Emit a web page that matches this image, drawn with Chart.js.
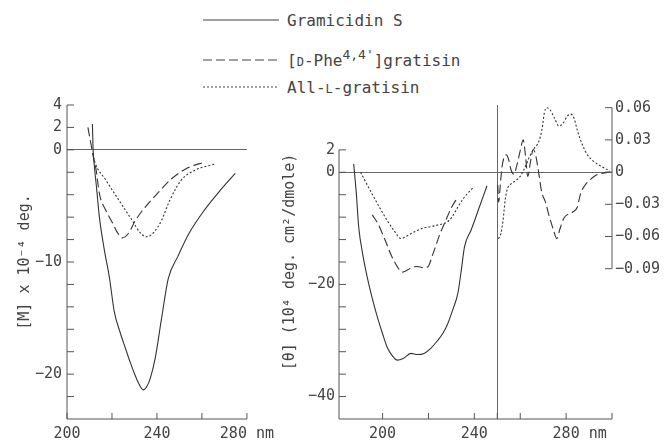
<!DOCTYPE html>
<html>
<head>
<meta charset="utf-8">
<script src="https://cdn.jsdelivr.net/npm/chart.js@4.4.1/dist/chart.umd.min.js"></script>
<style>
  body { margin: 0; background: #fff; }
  #wrap { position: relative; width: 665px; height: 441px; overflow: hidden;
          font-family: "DejaVu Sans Mono", monospace; color: #444; }
  canvas { position: absolute; top: 0; }
  #ord { left: 0; }
  #cd { left: 280px; }
  .key { position: absolute; left: 203px; height: 20px; display: flex; align-items: center;
         font-size: 16px; white-space: nowrap; }
  .key svg { width: 76px; height: 4px; margin-right: 8px; flex: none; }
  .sc { font-size: 12px; }
  sup { font-size: 13px; vertical-align: 7px; line-height: 0; }
</style>
</head>
<body>
<div id="wrap">
  <div class="key" style="top:10px">
    <svg><line x1="0" y1="2" x2="76" y2="2" stroke="#444" stroke-width="1.1"/></svg><span>Gramicidin S</span>
  </div>
  <div class="key" style="top:50px">
    <svg><line x1="0" y1="2" x2="76" y2="2" stroke="#444" stroke-width="1.1" stroke-dasharray="9 4"/></svg><span>[<span class="sc">D</span>-Phe<sup>4,4'</sup>]gratisin</span>
  </div>
  <div class="key" style="top:77px">
    <svg><line x1="0" y1="2" x2="76" y2="2" stroke="#444" stroke-width="1.1" stroke-dasharray="2 2"/></svg><span>All-<span class="sc">L</span>-gratisin</span>
  </div>
  <canvas id="ord" width="280" height="441"></canvas>
  <canvas id="cd" width="385" height="441"></canvas>
</div>
<script>
// ORD curves, [M] x 10^-4 deg. vs nm
const ordGramX = [211.3, 211.6, 212.2, 213.2, 214.4, 216.5, 218.8, 221, 223.5, 226, 228.2, 230.3, 232.3, 234, 235.5, 237, 239.2, 242, 245, 249.3, 254.4, 261, 268.2, 274.8];
const ordGramY = [2.3, 0, -1.5, -3.5, -6, -8.8, -11.3, -14.4, -16.2, -17.7, -19, -20.1, -21, -21.4, -21.1, -20.4, -18.6, -15.1, -11.5, -9.5, -7.4, -5.4, -3.6, -2.1];
const ordPheX = [209.3, 210.4, 211.5, 213, 214.4, 217.3, 220.2, 222.5, 224.6, 227.5, 230.4, 234.8, 240.6, 246.4, 253.7, 261];
const ordPheY = [2.0, 0.8, -0.4, -1.85, -3.9, -5.4, -6.5, -7.4, -7.85, -7.4, -6.3, -5.1, -3.8, -2.6, -1.6, -1.1];
const ordAllX = [211.4, 212.2, 217.3, 223.1, 229, 232.6, 235.5, 238.4, 242, 245.7, 250.8, 256.6, 266];
const ordAllY = [-0.3, -1.0, -2.7, -4.5, -6.3, -7.4, -7.75, -7.4, -6.3, -4.5, -2.7, -1.85, -1.25];

// CD curves below 250 nm, [theta] x 10^-4
const cdGramX = [187.4, 188.5, 189.6, 191.3, 193.3, 195.5, 197.7, 200, 202, 204.2, 206.4, 209, 212.3, 215.2, 218.1, 221, 224, 226.3, 228.4, 230.6, 232.8, 234.3, 235.7, 238.6, 242.2, 245.5];
const cdGramY = [1.5, -3.5, -9.8, -14.5, -18.7, -22.5, -25.8, -28.8, -31.2, -32.7, -33.5, -33.2, -32.3, -32.5, -32.3, -31.4, -30, -28.7, -27, -24.5, -21.6, -17.5, -13.3, -10.3, -6.2, -2.4];
const cdPheX = [195.5, 198, 201, 204, 207, 208.6, 211, 213, 215.2, 217.5, 219.6, 222, 225, 227, 230, 232.8];
const cdPheY = [-7.6, -9.2, -12, -15, -17.2, -17.8, -17.4, -16.9, -16.8, -17, -16.9, -14.5, -11, -9.1, -6.3, -4.4];
const cdAllX = [190.4, 193, 196, 199, 202, 205, 207.9, 210, 213, 216, 218.1, 221, 224, 226.9, 229, 231, 232.8, 235, 237, 239.3];
const cdAllY = [0, -2, -4.3, -6.5, -8.6, -10.4, -11.8, -11.5, -10.8, -10.2, -9.9, -9.7, -9.4, -9.1, -8.6, -7.5, -6.2, -4.8, -3.8, -2.8];

// CD curves above 250 nm, right axis
const cdPheRX = [250.2, 250.6, 251.2, 252, 253, 254, 255, 256, 257.3, 258.5, 260, 261.3, 262.3, 263.3, 264.5, 265.7, 266.8, 268, 269.3, 271, 272.5, 274.5, 275.9, 277.3, 279, 281, 283, 284.8, 286.3, 288.3, 290.5, 293, 296, 299];
const cdPheRY = [-0.012, -0.028, -0.015, 0.004, 0.014, 0.016, 0.011, 0.002, -0.002, 0.006, 0.020, 0.030, 0.015, -0.004, 0.010, 0.021, 0.015, 0.000, -0.018, -0.028, -0.040, -0.054, -0.062, -0.053, -0.043, -0.039, -0.037, -0.033, -0.020, -0.012, -0.007, -0.003, -0.001, 0];
const cdAllRX = [250.5, 251.5, 252.5, 253.5, 254.5, 256, 258, 260, 262, 264, 266, 268, 269.5, 270.5, 271.5, 273, 275, 276.8, 278.5, 280.5, 282, 283.5, 285, 287, 289, 291.5, 294, 296.5, 299];
const cdAllRY = [-0.062, -0.058, -0.045, -0.025, -0.015, -0.011, -0.008, -0.004, 0.004, 0.014, 0.022, 0.028, 0.040, 0.055, 0.060, 0.058, 0.050, 0.043, 0.045, 0.052, 0.054, 0.050, 0.038, 0.026, 0.017, 0.011, 0.007, 0.004, 0.001];

// ticks and their labels
const ordXTicks = [200, 220, 240, 260, 280];
const ordXLabels = ["200", "", "240", "", "280 nm"];
const ordYTicks = [4, 2, 0, -2, -4, -6, -8, -10, -12, -14, -16, -18, -20, -22];
const ordYLabels = ["4", "2", "0", "", "", "", "", "−10", "", "", "", "", "−20", ""];
const cdXTicks = [200, 220, 240, 250, 260, 280, 300];
const cdXLabels = ["200", "", "240", "", "", "   280 nm", ""];
const cdYTicks = [4, 0, -4, -8, -12, -16, -20, -24, -28, -32, -36, -40];
const cdYLabels = ["2", "0", "", "", "", "", "−20", "", "", "", "", "−40"];
const cdY2Ticks = [0.06, 0.03, 0, -0.03, -0.06, -0.09];
const cdY2Labels = ["0.06", "0.03", "0", "−0.03", "−0.06", "−0.09"];

Chart.defaults.font.family = "'DejaVu Sans Mono', monospace";
Chart.defaults.font.size = 15;
Chart.defaults.color = "#444";

// axis lines with inward tick marks
const frame = {
  id: "frame",
  afterDatasetsDraw(chart, args, opts) {
    const { ctx, chartArea: a } = chart;
    ctx.save();
    ctx.strokeStyle = "#555";
    ctx.lineWidth = 1;
    ctx.beginPath();
    for (const [id, span] of Object.entries(opts.spans)) {
      const s = chart.scales[id];
      const p1 = s.getPixelForValue(span[0]);
      const p2 = s.getPixelForValue(span[1]);
      if (s.isHorizontal()) {
        ctx.moveTo(p1, a.bottom); ctx.lineTo(p2, a.bottom);
        s.ticks.forEach(t => {
          const x = s.getPixelForValue(t.value);
          ctx.moveTo(x, a.bottom); ctx.lineTo(x, a.bottom - 6);
        });
      } else {
        const x = s.position === "right" ? a.right : a.left;
        const d = s.position === "right" ? -7 : 7;
        ctx.moveTo(x, p1); ctx.lineTo(x, p2);
        s.ticks.forEach(t => {
          const y = s.getPixelForValue(t.value);
          ctx.moveTo(x, y); ctx.lineTo(x + d, y);
        });
      }
    }
    ctx.stroke();
    ctx.restore();
  }
};

const pts = (xs, ys) => xs.map((x, i) => ({ x: x, y: ys[i] }));
const curve = (data, dash, yAxisID) => ({
  data: data,
  yAxisID: yAxisID || "y",
  borderColor: "#333",
  borderWidth: 1.1,
  borderDash: dash,
  pointRadius: 0,
  fill: false,
  cubicInterpolationMode: "monotone",
});
const setTicks = values => scale => { scale.ticks = values.map(v => ({ value: v })); };
const zeroLine = at => ({
  drawTicks: false,
  color: c => (c.tick && c.tick.value === at ? "#666" : "rgba(0,0,0,0)"),
});

const SOLID = [], DASHED = [9, 4], DOTTED = [2, 2];

new Chart(document.getElementById("ord"), {
  type: "line",
  data: {
    datasets: [
      curve(pts(ordGramX, ordGramY), SOLID),
      curve(pts(ordPheX, ordPheY), DASHED),
      curve(pts(ordAllX, ordAllY), DOTTED),
    ],
  },
  options: {
    responsive: false,
    animation: false,
    layout: { padding: { top: 105, right: 30, left: 0, bottom: 0 } },
    plugins: {
      legend: { display: false },
      tooltip: { enabled: false },
      frame: { spans: { x: [200, 280], y: [4, -24] } },
    },
    scales: {
      x: {
        type: "linear", min: 200, max: 280,
        afterBuildTicks: setTicks(ordXTicks),
        afterFit: s => { s.height = 22; },
        ticks: { autoSkip: false, maxRotation: 0, padding: 6, callback: (v, i) => ordXLabels[i] },
        grid: { display: false, drawTicks: false },
        border: { display: false },
      },
      y: {
        min: -24, max: 4,
        afterBuildTicks: setTicks(ordYTicks),
        afterFit: s => { s.width = 67; },
        ticks: { autoSkip: false, padding: 5, callback: (v, i) => ordYLabels[i] },
        grid: zeroLine(0),
        border: { display: false },
        title: { display: true, text: "[M] x 10⁻⁴ deg.", padding: { top: 16, bottom: 0 } },
      },
    },
  },
  plugins: [frame],
});

new Chart(document.getElementById("cd"), {
  type: "line",
  data: {
    datasets: [
      curve(pts(cdGramX, cdGramY), SOLID),
      curve(pts(cdPheX, cdPheY), DASHED),
      curve(pts(cdAllX, cdAllY), DOTTED),
      curve(pts(cdPheRX, cdPheRY), DASHED, "y2"),
      curve(pts(cdAllRX, cdAllRY), DOTTED, "y2"),
    ],
  },
  options: {
    responsive: false,
    animation: false,
    layout: { padding: { top: 105, right: 0, left: 0, bottom: 0 } },
    plugins: {
      legend: { display: false },
      tooltip: { enabled: false },
      frame: { spans: { x: [181, 300], y: [4, -44], y2: [0.06, -0.09] } },
    },
    scales: {
      x: {
        type: "linear", min: 181, max: 300,
        afterBuildTicks: setTicks(cdXTicks),
        afterFit: s => { s.height = 22; },
        ticks: { autoSkip: false, maxRotation: 0, padding: 6, callback: (v, i) => cdXLabels[i] },
        grid: zeroLine(250),
        border: { display: false },
      },
      y: {
        position: "left",
        min: -44, max: 12,
        afterBuildTicks: setTicks(cdYTicks),
        afterFit: s => { s.width = 59; },
        ticks: { autoSkip: false, padding: 4, callback: (v, i) => cdYLabels[i] },
        grid: zeroLine(0),
        border: { display: false },
        title: { display: true, text: "[θ] (10⁴ deg. cm²/dmole)", padding: { top: 1, bottom: 0 } },
      },
      y2: {
        position: "right",
        min: -0.23, max: 0.0625,
        afterBuildTicks: setTicks(cdY2Ticks),
        afterFit: s => { s.width = 53; },
        ticks: { autoSkip: false, padding: 3, callback: (v, i) => cdY2Labels[i] },
        grid: { display: false, drawTicks: false },
        border: { display: false },
      },
    },
  },
  plugins: [frame],
});
</script>
</body>
</html>
